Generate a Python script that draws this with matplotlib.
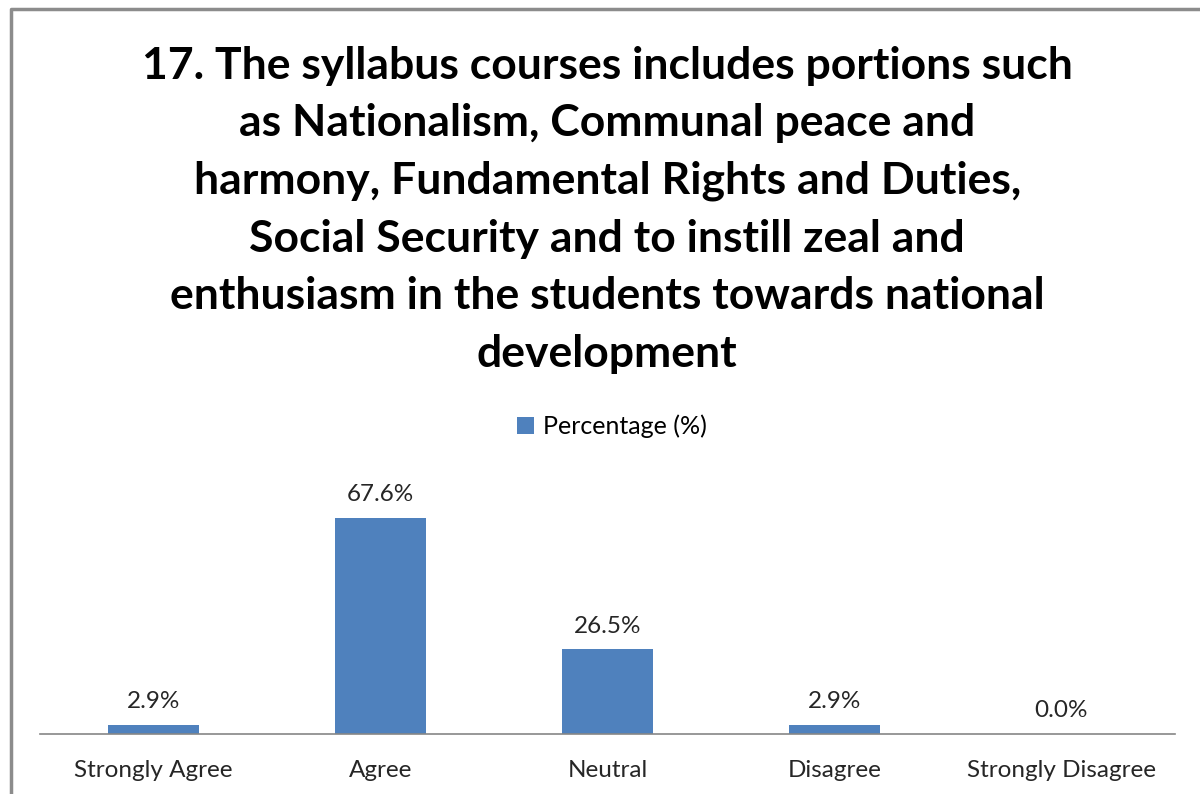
import matplotlib.pyplot as plt
from matplotlib.lines import Line2D

categories = ["Strongly Agree", "Agree", "Neutral", "Disagree", "Strongly Disagree"]
percentages = [2.9, 67.6, 26.5, 2.9, 0.0]
series_name = "Percentage (%)"
title = ("17. The syllabus courses includes portions such\n"
         "as Nationalism, Communal peace and\n"
         "harmony, Fundamental Rights and Duties,\n"
         "Social Security and to instill zeal and\n"
         "enthusiasm in the students towards national\n"
         "development")

plt.rcParams['font.family'] = ['Lato', 'DejaVu Sans']
blue = '#4F81BD'

fig = plt.figure(figsize=(12, 7.94), dpi=100)
ax = fig.add_axes([0.0333, 0.0756, 0.9458, 0.3224])

x = range(len(categories))
bars = ax.bar(x, percentages, width=0.4, color=blue, label=series_name)
for xi, v in zip(x, percentages):
    ax.annotate(f"{v:.1f}%", (xi, v), xytext=(0, 9), textcoords='offset points',
                ha='center', va='bottom', fontsize=17.5, color='#262626')

ax.set_xlim(-0.5, len(categories) - 0.5)
ax.set_ylim(0, 80)
ax.set_yticks([])
ax.set_xticks(list(x))
ax.set_xticklabels(categories, fontsize=17.5, color='#262626')
ax.tick_params(axis='x', length=0, pad=19)
for s in ['top', 'right', 'left']:
    ax.spines[s].set_visible(False)
ax.spines['bottom'].set_color('#868686')
ax.spines['bottom'].set_linewidth(1.2)

fig.text(0.506, 0.736, title, ha='center', va='center', fontsize=32, fontweight='bold',
         linespacing=1.53, color='black')

leg = fig.legend(handles=[bars], loc='center', bbox_to_anchor=(0.51, 0.463), frameon=False,
                 fontsize=18, handlelength=0.7, handleheight=0.7, handletextpad=0.35)

# outer chart border (left and top)
fig.add_artist(Line2D([0.0095, 0.0095, 1.0], [0.0, 0.989, 0.989], transform=fig.transFigure,
                      color='#8c8c8c', linewidth=2.5))

fig.savefig('out.png', dpi=100, facecolor='white')
